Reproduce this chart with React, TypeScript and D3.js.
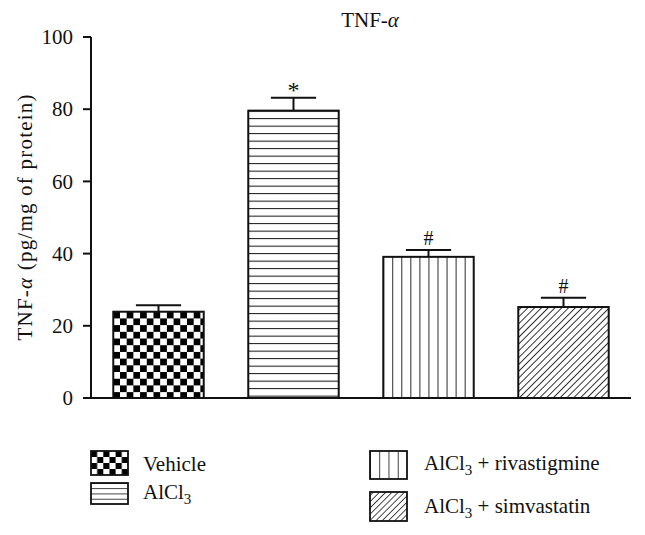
import React from "react";
import * as d3 from "d3";

const categories = ["Vehicle", "AlCl3", "AlCl3 + rivastigmine", "AlCl3 + simvastatin"];
const means = [23.9, 79.6, 39.1, 25.2];
const errors = [1.8, 3.6, 1.9, 2.6];
const marks = ["", "*", "#", "#"];
const yTicks = [0, 20, 40, 60, 80, 100];
const patterns = ["checker", "hlines", "vlines", "diag"];

const W = 645;
const H = 535;
const FONT = "'Liberation Serif', 'DejaVu Serif', serif";
const FS = 21;

function AlCl3Label({ x, y, rest }: { x: number; y: number; rest: string }) {
  return (
    <text x={x} y={y} fontFamily={FONT} fontSize={FS} fill="#111">
      AlCl
      <tspan dy={5} fontSize={15}>3</tspan>
      <tspan dy={-5}>{rest}</tspan>
    </text>
  );
}

export default function App() {
  const x = d3
    .scaleBand<string>()
    .domain(categories)
    .range([91, 631])
    .paddingInner(0.33)
    .paddingOuter(0.165);
  const y = d3.scaleLinear().domain([0, 100]).range([398, 37]);
  const bw = x.bandwidth();

  const legendItems = [
    { i: 0, sx: 91, sy: 451, sw: 37, sh: 24, tx: 143, ty: 471, label: "Vehicle" },
    { i: 1, sx: 91, sy: 483, sw: 37, sh: 21, tx: 143, ty: 499, label: "AlCl3" },
    { i: 2, sx: 370, sy: 451, sw: 37, sh: 28, tx: 424, ty: 470, label: "AlCl3 + rivastigmine" },
    { i: 3, sx: 370, sy: 492, sw: 37, sh: 29, tx: 424, ty: 513, label: "AlCl3 + simvastatin" },
  ];

  return (
    <svg
      width={W}
      height={H}
      style={{ position: "absolute", left: 0, top: 0, background: "#fff" }}
    >
      <defs>
        <pattern id="checker" patternUnits="userSpaceOnUse" width={13.4} height={13.4} x={x(categories[0])} y={y(means[0])}>
          <rect width={13.4} height={13.4} fill="#fff" />
          <rect width={6.7} height={6.7} fill="#000" />
          <rect x={6.7} y={6.7} width={6.7} height={6.7} fill="#000" />
        </pattern>
        <pattern id="checker-leg" patternUnits="userSpaceOnUse" width={12.3} height={12} x={91} y={451}>
          <rect width={12.3} height={12} fill="#fff" />
          <rect width={6.15} height={6} fill="#000" />
          <rect x={6.15} y={6} width={6.15} height={6} fill="#000" />
        </pattern>
        <pattern id="hlines" patternUnits="userSpaceOnUse" width={10} height={7.5} y={y(means[1])}>
          <rect width={10} height={7.5} fill="#fff" />
          <line x1={0} x2={10} y1={0} y2={0} stroke="#111" strokeWidth={2} />
        </pattern>
        <pattern id="hlines-leg" patternUnits="userSpaceOnUse" width={10} height={5.25} y={483}>
          <rect width={10} height={5.25} fill="#fff" />
          <line x1={0} x2={10} y1={0} y2={0} stroke="#111" strokeWidth={1.6} />
        </pattern>
        <pattern id="vlines" patternUnits="userSpaceOnUse" width={bw / 10} height={10} x={x(categories[2])}>
          <rect width={bw / 10} height={10} fill="#fff" />
          <line x1={0} x2={0} y1={0} y2={10} stroke="#111" strokeWidth={1.8} />
        </pattern>
        <pattern id="vlines-leg" patternUnits="userSpaceOnUse" width={37 / 4} height={10} x={370}>
          <rect width={37 / 4} height={10} fill="#fff" />
          <line x1={0} x2={0} y1={0} y2={10} stroke="#111" strokeWidth={1.6} />
        </pattern>
        <pattern id="diag" patternUnits="userSpaceOnUse" width={4.8} height={4.8} patternTransform="rotate(45)">
          <rect width={4.8} height={4.8} fill="#fff" />
          <line x1={0} x2={0} y1={0} y2={4.8} stroke="#111" strokeWidth={1.7} />
        </pattern>
        <pattern id="diag-leg" patternUnits="userSpaceOnUse" width={4.4} height={4.4} patternTransform="rotate(45)">
          <rect width={4.4} height={4.4} fill="#fff" />
          <line x1={0} x2={0} y1={0} y2={4.4} stroke="#111" strokeWidth={1.5} />
        </pattern>
      </defs>

      {/* title */}
      <text x={370} y={27} textAnchor="middle" fontFamily={FONT} fontSize={FS} fill="#111">
        TNF-<tspan fontStyle="italic">α</tspan>
      </text>

      {/* y axis */}
      <line x1={91} x2={91} y1={y(100)} y2={y(0)} stroke="#111" strokeWidth={2} />
      {yTicks.map((t) => (
        <g key={t}>
          <line x1={83} x2={91} y1={y(t)} y2={y(t)} stroke="#111" strokeWidth={2} />
          <text x={73} y={y(t)} dy="0.34em" textAnchor="end" fontFamily={FONT} fontSize={FS} fill="#111">
            {t}
          </text>
        </g>
      ))}
      <text
        transform={`translate(32, ${(y(0) + y(100)) / 2}) rotate(-90)`}
        textAnchor="middle"
        fontFamily={FONT}
        fontSize={FS}
        fill="#111"
        textLength={246}
        lengthAdjust="spacing"
      >
        TNF-<tspan fontStyle="italic">α</tspan> (pg/mg of protein)
      </text>

      {/* bars */}
      {categories.map((c, i) => {
        const bx = x(c) as number;
        const top = y(means[i]);
        const etop = y(means[i] + errors[i]);
        const cx = bx + bw / 2;
        return (
          <g key={c}>
            <rect x={bx} y={top} width={bw} height={y(0) - top} fill={`url(#${patterns[i]})`} stroke="#111" strokeWidth={2} />
            <line x1={cx} x2={cx} y1={top} y2={etop} stroke="#111" strokeWidth={2} />
            <line x1={cx - bw / 4} x2={cx + bw / 4} y1={etop} y2={etop} stroke="#111" strokeWidth={2} />
            {marks[i] && (
              <text
                x={cx}
                y={etop - (marks[i] === "*" ? 0 : 5)}
                textAnchor="middle"
                fontFamily={FONT}
                fontSize={marks[i] === "*" ? 24 : 20}
                fill="#111"
              >
                {marks[i]}
              </text>
            )}
          </g>
        );
      })}

      {/* x axis */}
      <line x1={83} x2={631} y1={y(0)} y2={y(0)} stroke="#111" strokeWidth={2} />

      {/* legend */}
      {legendItems.map((d) => (
        <g key={d.label}>
          <rect x={d.sx} y={d.sy} width={d.sw} height={d.sh} fill={`url(#${patterns[d.i]}-leg)`} stroke="#111" strokeWidth={1.8} />
          {d.label.startsWith("AlCl3") ? (
            <AlCl3Label x={d.tx} y={d.ty} rest={d.label.slice(5)} />
          ) : (
            <text x={d.tx} y={d.ty} fontFamily={FONT} fontSize={FS} fill="#111">
              {d.label}
            </text>
          )}
        </g>
      ))}
    </svg>
  );
}
